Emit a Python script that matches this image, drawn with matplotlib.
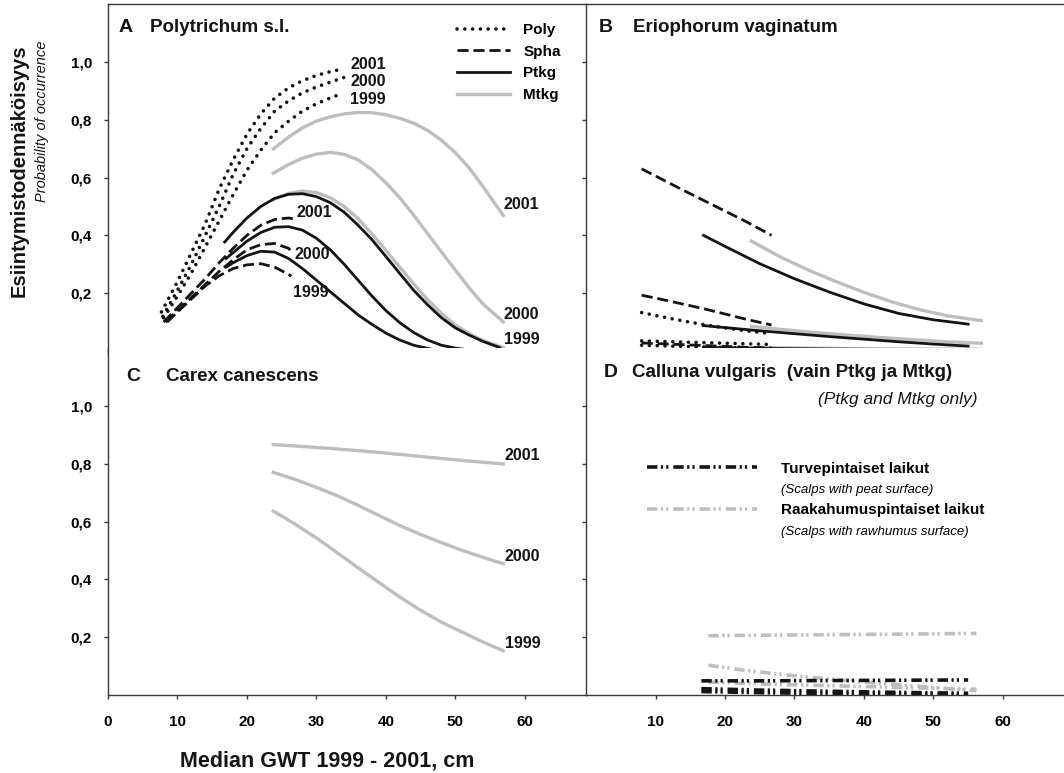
import matplotlib.pyplot as plt
from matplotlib.lines import Line2D

plt.rcParams['font.family'] = ['Liberation Sans', 'DejaVu Sans']
plt.rcParams['lines.scale_dashes'] = False

# --- A: Polytrichum s.l. ---
gwt_poly_01 = [7.7, 10, 12, 14, 16, 18, 20, 22, 24, 26, 28, 30, 32, 33.7]
poly_01 = [0.135, 0.24, 0.34, 0.44, 0.56, 0.66, 0.75, 0.82, 0.875, 0.91, 0.935, 0.953, 0.966, 0.975]
gwt_poly_00 = [7.9, 10, 12, 14, 16, 18, 20, 22, 24, 26, 28, 30, 32, 34]
poly_00 = [0.12, 0.21, 0.30, 0.40, 0.50, 0.61, 0.70, 0.77, 0.83, 0.865, 0.893, 0.913, 0.93, 0.946]
gwt_poly_99 = [8, 10, 12, 14, 16, 18, 20, 22, 24, 26, 28, 30, 32, 33.4]
poly_99 = [0.115, 0.19, 0.27, 0.36, 0.45, 0.54, 0.625, 0.695, 0.755, 0.795, 0.83, 0.855, 0.875, 0.888]

gwt_spha_01 = [8, 10, 12, 14, 16, 18, 20, 22, 24, 26, 27.1]
spha_01 = [0.10, 0.15, 0.20, 0.25, 0.305, 0.355, 0.40, 0.435, 0.455, 0.46, 0.455]
gwt_spha_00 = [8.3, 10, 12, 14, 16, 18, 20, 22, 24, 26, 26.7]
spha_00 = [0.10, 0.14, 0.185, 0.23, 0.275, 0.315, 0.35, 0.368, 0.372, 0.355, 0.337]
gwt_spha_99 = [8.5, 10, 12, 14, 16, 18, 20, 22, 24, 26, 26.4]
spha_99 = [0.10, 0.135, 0.18, 0.225, 0.26, 0.285, 0.298, 0.302, 0.29, 0.265, 0.259]

gwt_ptkg_01 = [16.8, 18, 20, 22, 24, 26, 28, 30, 32, 34, 36, 38, 40, 42, 44, 46, 48, 50, 52, 54, 56.4]
ptkg_01 = [0.377, 0.41, 0.46, 0.50, 0.528, 0.542, 0.544, 0.534, 0.513, 0.48, 0.435, 0.385,
           0.327, 0.268, 0.21, 0.16, 0.115, 0.08, 0.055, 0.033, 0.012]
gwt_ptkg_00 = [17, 18, 20, 22, 24, 26, 28, 30, 32, 34, 36, 38, 40, 42, 44, 46, 48, 50, 51.6]
ptkg_00 = [0.32, 0.34, 0.38, 0.41, 0.428, 0.43, 0.418, 0.39, 0.35, 0.30, 0.245, 0.19, 0.14,
           0.098, 0.064, 0.038, 0.02, 0.01, 0.005]
gwt_ptkg_99 = [17, 18, 20, 22, 24, 26, 28, 30, 32, 34, 36, 38, 40, 42, 44, 46, 46.8]
ptkg_99 = [0.29, 0.305, 0.33, 0.345, 0.342, 0.32, 0.285, 0.245, 0.205, 0.165, 0.125, 0.092,
           0.062, 0.038, 0.02, 0.009, 0.005]

gwt_mtkg = [23.8, 26, 28, 30, 32, 34, 36, 38, 40, 42, 44, 46, 48, 50, 52, 54, 56.9]
mtkg_01 = [0.699, 0.74, 0.772, 0.795, 0.81, 0.82, 0.825, 0.824, 0.817, 0.805, 0.788, 0.763,
           0.729, 0.686, 0.633, 0.568, 0.469]
mtkg_00 = [0.615, 0.645, 0.667, 0.681, 0.687, 0.68, 0.661, 0.627, 0.582, 0.53, 0.47, 0.406,
           0.343, 0.28, 0.218, 0.162, 0.101]
mtkg_99 = [0.523, 0.545, 0.553, 0.548, 0.53, 0.50, 0.458, 0.405, 0.348, 0.29, 0.232, 0.178,
           0.13, 0.09, 0.06, 0.036, 0.012]

# --- B: Eriophorum vaginatum ---
gwt_b_spha = [8, 11, 14, 17, 20, 23, 26.7]
b_spha_hi = [0.63, 0.593, 0.556, 0.52, 0.484, 0.448, 0.40]
b_spha_mid = [0.193, 0.178, 0.162, 0.146, 0.128, 0.11, 0.09]
b_spha_lo = [0.028, 0.025, 0.022, 0.019, 0.016, 0.013, 0.011]
gwt_b_poly = [8, 11, 14, 17, 20, 23, 26]
b_poly_hi = [0.133, 0.118, 0.104, 0.091, 0.08, 0.07, 0.062]
b_poly_mid = [0.035, 0.033, 0.031, 0.029, 0.027, 0.025, 0.023]
b_poly_lo = [0.02, 0.018, 0.016, 0.014, 0.012, 0.01, 0.009]
gwt_b_ptkg = [16.9, 20, 25, 30, 35, 40, 45, 50, 55]
b_ptkg_hi = [0.40, 0.362, 0.302, 0.25, 0.204, 0.163, 0.13, 0.108, 0.093]
b_ptkg_mid = [0.088, 0.081, 0.07, 0.06, 0.05, 0.041, 0.032, 0.024, 0.017]
b_ptkg_lo = [0.012, 0.011, 0.009, 0.008, 0.007, 0.006, 0.005, 0.004, 0.004]
gwt_b_mtkg = [23.8, 28, 32, 36, 40, 44, 48, 52, 56.9]
b_mtkg_hi = [0.38, 0.325, 0.28, 0.24, 0.203, 0.17, 0.143, 0.122, 0.105]
b_mtkg_mid = [0.085, 0.075, 0.066, 0.058, 0.051, 0.044, 0.038, 0.032, 0.027]
b_mtkg_lo = [0.012, 0.011, 0.01, 0.009, 0.008, 0.008, 0.007, 0.007, 0.006]

# --- C: Carex canescens (Mtkg) ---
gwt_c = [23.8, 27, 30, 33, 36, 39, 42, 45, 48, 51, 54, 56.9]
c_2001 = [0.866, 0.861, 0.856, 0.851, 0.845, 0.839, 0.832, 0.825, 0.818, 0.811, 0.805, 0.799]
c_2000 = [0.77, 0.745, 0.718, 0.689, 0.656, 0.621, 0.586, 0.555, 0.527, 0.5, 0.476, 0.454]
c_1999 = [0.636, 0.59, 0.543, 0.492, 0.44, 0.389, 0.339, 0.293, 0.252, 0.217, 0.183, 0.153]

# --- D: Calluna vulgaris ---
gwt_d_turve = [16.6, 25, 35, 45, 55]
d_turve_hi = [0.049, 0.049, 0.05, 0.051, 0.052]
d_turve_mid = [0.022, 0.017, 0.013, 0.009, 0.006]
d_turve_lo = [0.012, 0.008, 0.005, 0.003, 0.002]
gwt_d_raaka = [17.6, 22, 27, 32, 37, 42, 47, 52, 56.2]
d_raaka_hi = [0.205, 0.206, 0.207, 0.208, 0.209, 0.21, 0.211, 0.212, 0.213]
d_raaka_mid = [0.103, 0.088, 0.074, 0.062, 0.051, 0.041, 0.032, 0.022, 0.015]
d_raaka_lo = [0.045, 0.041, 0.037, 0.034, 0.031, 0.028, 0.025, 0.022, 0.02]

years = ['2001', '2000', '1999']
yticks = [0.2, 0.4, 0.6, 0.8, 1.0]
ytick_labels = ['0,2', '0,4', '0,6', '0,8', '1,0']
xticks_left = [0, 10, 20, 30, 40, 50, 60]
xticks_right = [10, 20, 30, 40, 50, 60]

BLACK = '#141414'
GREY = '#bebebe'
DOT = dict(color=BLACK, lw=2.6, dashes=(0.01, 5.6), dash_capstyle='round')
DASH = dict(color=BLACK, lw=2.0, dashes=(8, 3.5))
SOLID = dict(color=BLACK, lw=2.0)
MTKG = dict(color=GREY, lw=2.4)
DDOT_B = dict(color=BLACK, lw=2.6, dashes=(7.5, 2.5, 1.6, 2.2, 1.6, 3.5))
DDOT_G = dict(color=GREY, lw=2.6, dashes=(7.5, 2.5, 1.6, 2.2, 1.6, 3.5))

fig = plt.figure(figsize=(10.64, 7.73), dpi=100)
W, H = 0.4492, 0.4489
ax_a = fig.add_axes([0.1015, 0.5459, W, H])
ax_b = fig.add_axes([0.5508, 0.5459, W, H])
ax_c = fig.add_axes([0.1015, 0.1009, W, H])
ax_d = fig.add_axes([0.5508, 0.1009, W, H])

for ax in (ax_a, ax_b, ax_c, ax_d):
    ax.set_xlim(0, 68.8)
    ax.set_ylim(0, 1.2)
    ax.spines['right'].set_visible(False)
    for s in ax.spines.values():
        s.set_color('#3a3a3a')
        s.set_linewidth(1.0)
    ax.tick_params(direction='out', length=3, width=1, color='#3a3a3a')
    ax.set_yticks(yticks)
    ax.set_yticklabels([])
for ax in (ax_c, ax_d):
    ax.spines['top'].set_visible(False)

ax_a.set_xticks(xticks_left)
ax_a.set_xticklabels([])
ax_b.set_xticks(xticks_right)
ax_b.set_xticklabels([])
ax_c.set_xticks(xticks_left)
ax_c.set_xticklabels([str(v) for v in xticks_left], fontsize=11, fontweight='bold')
ax_d.set_xticks(xticks_right)
ax_d.set_xticklabels([str(v) for v in xticks_right], fontsize=11, fontweight='bold')
for ax in (ax_c, ax_d):
    ax.tick_params(axis='x', pad=11.5)
for ax in (ax_a, ax_c):
    ax.set_yticklabels(ytick_labels, fontsize=11, fontweight='bold')
    ax.tick_params(axis='y', pad=8.5)

# panel A
ax_a.plot(gwt_poly_01, poly_01, **DOT)
ax_a.plot(gwt_poly_00, poly_00, **DOT)
ax_a.plot(gwt_poly_99, poly_99, **DOT)
ax_a.plot(gwt_mtkg, mtkg_01, **MTKG)
ax_a.plot(gwt_mtkg, mtkg_00, **MTKG)
ax_a.plot(gwt_mtkg, mtkg_99, **MTKG)
ax_a.plot(gwt_spha_01, spha_01, **DASH)
ax_a.plot(gwt_spha_00, spha_00, **DASH)
ax_a.plot(gwt_spha_99, spha_99, **DASH)
ax_a.plot(gwt_ptkg_01, ptkg_01, **SOLID)
ax_a.plot(gwt_ptkg_00, ptkg_00, **SOLID)
ax_a.plot(gwt_ptkg_99, ptkg_99, **SOLID)

lbl = dict(fontsize=11.5, fontweight='bold', ha='left', va='center', color=BLACK)
for yr, y in zip(years, [0.992, 0.932, 0.871]):
    ax_a.text(34.9, y, yr, **lbl)
for yr, x, y in zip(years, [27.2, 26.9, 26.6], [0.48, 0.333, 0.201]):
    ax_a.text(x, y, yr, **lbl)
for yr, y in zip(years, [0.506, 0.128, 0.04]):
    ax_a.text(57.0, y, yr, **lbl)

leg_a = ax_a.legend(
    [Line2D([], [], **DOT), Line2D([], [], **DASH), Line2D([], [], **SOLID), Line2D([], [], **MTKG)],
    ['Poly', 'Spha', 'Ptkg', 'Mtkg'],
    loc='upper left', bbox_to_anchor=(0.730, 0.945), frameon=False, borderpad=0,
    borderaxespad=0, handlelength=3.5, handletextpad=0.85, labelspacing=0.5,
    prop=dict(size=11, weight='bold'))

# panel B
ax_b.plot(gwt_b_poly, b_poly_hi, **DOT)
ax_b.plot(gwt_b_poly, b_poly_mid, **DOT)
ax_b.plot(gwt_b_poly, b_poly_lo, **DOT)
ax_b.plot(gwt_b_mtkg, b_mtkg_hi, **MTKG)
ax_b.plot(gwt_b_mtkg, b_mtkg_mid, **MTKG)
ax_b.plot(gwt_b_mtkg, b_mtkg_lo, **MTKG)
ax_b.plot(gwt_b_spha, b_spha_hi, **DASH)
ax_b.plot(gwt_b_spha, b_spha_mid, **DASH)
ax_b.plot(gwt_b_spha, b_spha_lo, **DASH)
ax_b.plot(gwt_b_ptkg, b_ptkg_hi, **SOLID)
ax_b.plot(gwt_b_ptkg, b_ptkg_mid, **SOLID)
ax_b.plot(gwt_b_ptkg, b_ptkg_lo, **SOLID)

# panel C
ax_c.plot(gwt_c, c_2001, **MTKG)
ax_c.plot(gwt_c, c_2000, **MTKG)
ax_c.plot(gwt_c, c_1999, **MTKG)
for yr, y in zip(years, [c_2001[-1] + 0.03, c_2000[-1] + 0.025, c_1999[-1] + 0.025]):
    ax_c.text(57.1, y, yr, **lbl)

# panel D
ax_d.plot(gwt_d_raaka, d_raaka_hi, **DDOT_G)
ax_d.plot(gwt_d_raaka, d_raaka_mid, **DDOT_G)
ax_d.plot(gwt_d_raaka, d_raaka_lo, **DDOT_G)
ax_d.plot(gwt_d_turve, d_turve_hi, **DDOT_B)
ax_d.plot(gwt_d_turve, d_turve_mid, **DDOT_B)
ax_d.plot(gwt_d_turve, d_turve_lo, **DDOT_B)

blank = Line2D([], [], color='none')
leg_d = ax_d.legend(
    [Line2D([], [], **DDOT_B), blank, Line2D([], [], **DDOT_G), blank],
    ['Turvepintaiset laikut', '(Scalps with peat surface)',
     'Raakahumuspintaiset laikut', '(Scalps with rawhumus surface)'],
    loc='upper left', bbox_to_anchor=(0.128, 0.672), frameon=False, borderpad=0,
    borderaxespad=0, handlelength=7.2, handletextpad=1.55, labelspacing=0.45,
    prop=dict(size=11))
for i, t in enumerate(leg_d.get_texts()):
    if i % 2 == 0:
        t.set_fontweight('bold')
    else:
        t.set_fontstyle('italic')
        t.set_fontsize(9.5)

# panel titles
for ax, letter, lx, name, nx, y in [
        (ax_a, 'A', 0.021, 'Polytrichum s.l.', 0.088, 0.931),
        (ax_b, 'B', 0.027, 'Eriophorum vaginatum', 0.098, 0.931),
        (ax_c, 'C', 0.038, 'Carex canescens', 0.121, 0.919),
        (ax_d, 'D', 0.036, 'Calluna vulgaris  (vain Ptkg ja Mtkg)', 0.096, 0.928)]:
    ax.text(lx, y, letter, transform=ax.transAxes, fontsize=14, fontweight='bold',
            va='center', color=BLACK)
    ax.text(nx, y, name, transform=ax.transAxes, fontsize=13.5, fontweight='bold',
            va='center', color=BLACK)
ax_d.text(0.818, 0.853, '(Ptkg and Mtkg only)', transform=ax_d.transAxes, fontsize=12.5,
          fontstyle='italic', ha='right', va='center', color=BLACK)

# axis titles
fig.text(19 / 1064, 1 - 171 / 773, 'Esiintymistodennäköisyys', rotation=90, ha='center',
         va='center', fontsize=14.5, fontweight='bold', color=BLACK)
fig.text(42 / 1064, 1 - 121 / 773, 'Probability of occurrence', rotation=90, ha='center',
         va='center', fontsize=10.5, fontstyle='italic', color=BLACK)
fig.text(180 / 1064, 1 - 761 / 773, 'Median GWT 1999 - 2001, cm', ha='left', va='center',
         fontsize=15.5, fontweight='bold', color=BLACK)

fig.savefig('out.png', dpi=100)
